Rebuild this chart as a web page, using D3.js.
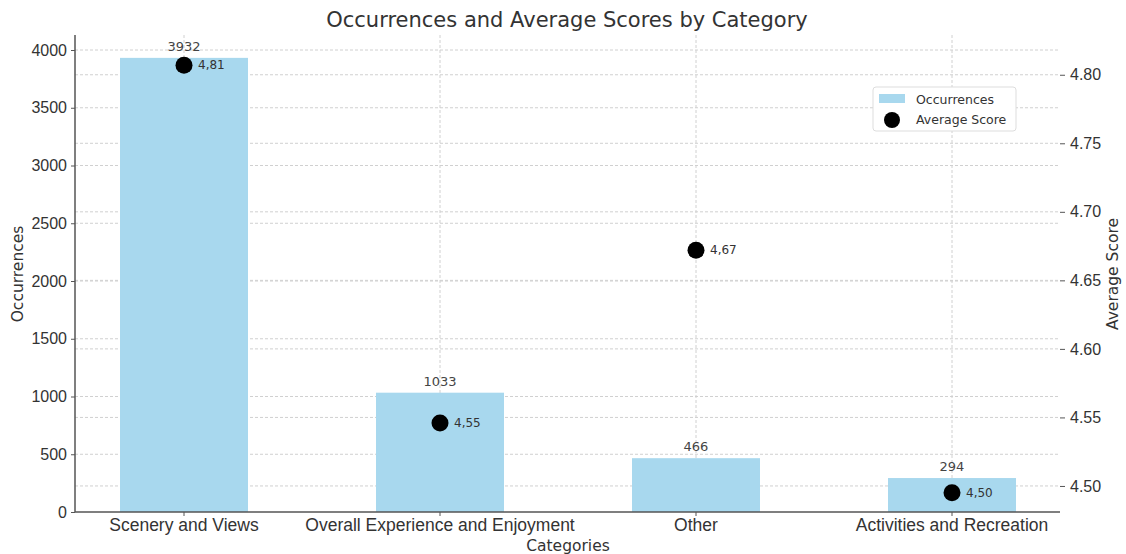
<!DOCTYPE html>
<html>
<head>
<meta charset="utf-8">
<script src="https://cdn.jsdelivr.net/npm/d3@7"></script>
<style>
  body { margin: 0; background: #fff; }
  svg { font-family: "DejaVu Sans", sans-serif; }
  .grid line { stroke: #d0d0d0; stroke-dasharray: 3,2; stroke-width: 1; }
  .tick text { fill: #333; font-size: 16px; }
  .xaxis .tick text { font-size: 17.5px; }
</style>
</head>
<body>
<svg id="chart" width="1126" height="554"></svg>
<script>
var categories = ["Scenery and Views", "Overall Experience and Enjoyment", "Other", "Activities and Recreation"];
var occurrences = [3932, 1033, 466, 294];
var avgScores = [4.807, 4.546, 4.672, 4.495];
var leftTicks = [0, 500, 1000, 1500, 2000, 2500, 3000, 3500, 4000];
var rightTicks = [4.50, 4.55, 4.60, 4.65, 4.70, 4.75, 4.80];

var plot = { left: 75, right: 1060, top: 35, bottom: 512 };
var barColor = "#a8d8ee";

var svg = d3.select("#chart");

var x = d3.scaleBand()
    .domain(categories)
    .range([56, 1080])
    .paddingInner(0.5)
    .paddingOuter(0.25);

var yLeft = d3.scaleLinear()
    .domain([0, 4130])
    .range([plot.bottom, plot.top]);

var yRight = d3.scaleLinear()
    .domain([4.481, 4.829])
    .range([plot.bottom, plot.top]);

// grid lines
var grid = svg.append("g").attr("class", "grid");
grid.selectAll("line.hl")
    .data(leftTicks.slice(1))
    .enter().append("line")
    .attr("x1", plot.left).attr("x2", plot.right)
    .attr("y1", function(d) { return yLeft(d); })
    .attr("y2", function(d) { return yLeft(d); });
grid.selectAll("line.hr")
    .data(rightTicks)
    .enter().append("line")
    .attr("x1", plot.left).attr("x2", plot.right)
    .attr("y1", function(d) { return yRight(d); })
    .attr("y2", function(d) { return yRight(d); });
grid.selectAll("line.v")
    .data(categories)
    .enter().append("line")
    .attr("x1", function(d) { return x(d) + x.bandwidth() / 2; })
    .attr("x2", function(d) { return x(d) + x.bandwidth() / 2; })
    .attr("y1", plot.top).attr("y2", plot.bottom);

// bars
svg.selectAll("rect.bar")
    .data(occurrences)
    .enter().append("rect")
    .attr("class", "bar")
    .attr("x", function(d, i) { return x(categories[i]); })
    .attr("width", x.bandwidth())
    .attr("y", function(d) { return yLeft(d); })
    .attr("height", function(d) { return plot.bottom - yLeft(d); })
    .attr("fill", barColor);

svg.selectAll("text.barlab")
    .data(occurrences)
    .enter().append("text")
    .attr("x", function(d, i) { return x(categories[i]) + x.bandwidth() / 2; })
    .attr("y", function(d) { return yLeft(d) - 7; })
    .attr("text-anchor", "middle")
    .attr("font-size", 13)
    .attr("fill", "#444")
    .text(function(d) { return d; });

// axes
var axL = svg.append("g")
    .attr("transform", "translate(" + plot.left + ",0)")
    .call(d3.axisLeft(yLeft).tickValues(leftTicks).tickSize(4).tickPadding(4)
        .tickFormat(d3.format("d")));
axL.select(".domain").remove();
axL.selectAll(".tick line").attr("stroke", "#555");

var axR = svg.append("g")
    .attr("transform", "translate(" + plot.right + ",0)")
    .call(d3.axisRight(yRight).tickValues(rightTicks).tickSize(5).tickPadding(5)
        .tickFormat(d3.format(".2f")));
axR.select(".domain").remove();
axR.selectAll(".tick line").attr("stroke", "#555");

var axB = svg.append("g")
    .attr("class", "xaxis")
    .attr("transform", "translate(0," + plot.bottom + ")")
    .call(d3.axisBottom(x).tickSize(4).tickPadding(3));
axB.select(".domain").remove();
axB.selectAll(".tick line").attr("stroke", "#555");

// spines
svg.append("line")
    .attr("x1", plot.left).attr("x2", plot.left)
    .attr("y1", plot.top).attr("y2", plot.bottom)
    .attr("stroke", "#555").attr("stroke-width", 1.5);
svg.append("line")
    .attr("x1", plot.left).attr("x2", plot.right)
    .attr("y1", plot.bottom).attr("y2", plot.bottom)
    .attr("stroke", "#555").attr("stroke-width", 1.5);

// score dots
svg.selectAll("circle.dot")
    .data(avgScores)
    .enter().append("circle")
    .attr("class", "dot")
    .attr("cx", function(d, i) { return x(categories[i]) + x.bandwidth() / 2; })
    .attr("cy", function(d) { return yRight(d); })
    .attr("r", 8.5)
    .attr("fill", "#000");

svg.selectAll("text.dotlab")
    .data(avgScores)
    .enter().append("text")
    .attr("x", function(d, i) { return x(categories[i]) + x.bandwidth() / 2 + 14; })
    .attr("y", function(d) { return yRight(d) + 4; })
    .attr("font-size", 12)
    .attr("fill", "#333")
    .text(function(d) { return d3.format(".2f")(d).replace(".", ","); });

// titles
svg.append("text")
    .attr("x", 567).attr("y", 27)
    .attr("text-anchor", "middle")
    .attr("font-size", 21)
    .attr("fill", "#333")
    .text("Occurrences and Average Scores by Category");

svg.append("text")
    .attr("x", 568).attr("y", 551)
    .attr("text-anchor", "middle")
    .attr("font-size", 15.5)
    .attr("fill", "#333")
    .text("Categories");

svg.append("text")
    .attr("transform", "translate(23,274) rotate(-90)")
    .attr("text-anchor", "middle")
    .attr("font-size", 15.5)
    .attr("fill", "#333")
    .text("Occurrences");

svg.append("text")
    .attr("transform", "translate(1118,274) rotate(-90)")
    .attr("text-anchor", "middle")
    .attr("font-size", 15.5)
    .attr("fill", "#333")
    .text("Average Score");

// legend
var lg = svg.append("g").attr("transform", "translate(873,87)");
lg.append("rect")
    .attr("width", 143).attr("height", 44)
    .attr("rx", 3)
    .attr("fill", "#fff")
    .attr("stroke", "#ddd");
lg.append("rect")
    .attr("x", 6).attr("y", 7)
    .attr("width", 26).attr("height", 9)
    .attr("fill", barColor);
lg.append("circle")
    .attr("cx", 19).attr("cy", 33)
    .attr("r", 8)
    .attr("fill", "#000");
lg.append("text")
    .attr("x", 43).attr("y", 17)
    .attr("font-size", 12.5).attr("fill", "#333")
    .text("Occurrences");
lg.append("text")
    .attr("x", 43).attr("y", 37)
    .attr("font-size", 12.5).attr("fill", "#333")
    .text("Average Score");
</script>
</body>
</html>
